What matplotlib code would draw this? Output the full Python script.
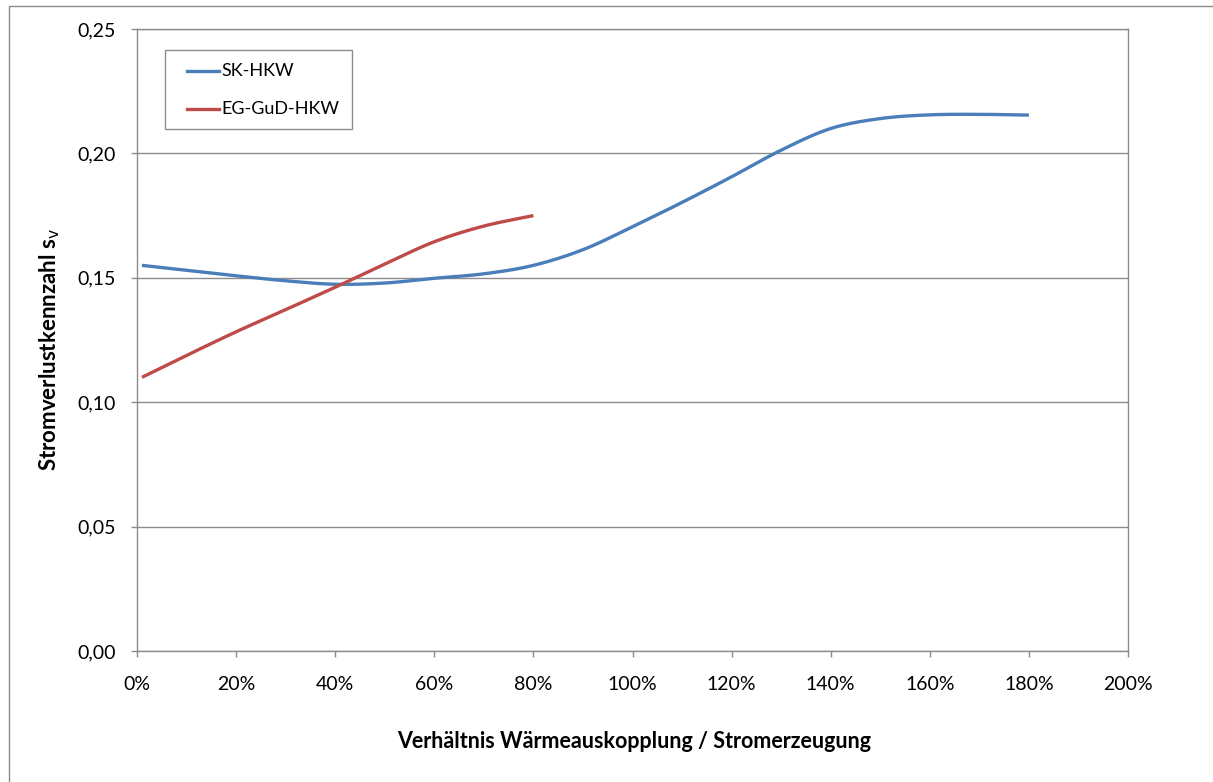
import numpy as np
import matplotlib
matplotlib.use("Agg")
import matplotlib.pyplot as plt
from matplotlib.patches import Rectangle
from matplotlib.lines import Line2D
from matplotlib.ticker import FuncFormatter

plt.rcParams['font.family'] = ['Lato', 'DejaVu Sans']

# ---- data (x in %, y = Stromverlustkennzahl) ----
sk_x = [1, 10, 20, 30, 40, 50, 60, 70, 80, 90, 100, 110, 120, 130, 140, 150, 160, 170, 180]
sk_y = [0.155, 0.153, 0.1508, 0.1488, 0.1474, 0.1479, 0.1498, 0.1516, 0.155, 0.1613,
        0.1705, 0.1803, 0.1906, 0.2013, 0.2100, 0.2140, 0.2155, 0.2157, 0.2154]
gud_x = [1, 10, 20, 30, 40, 50, 60, 70, 80]
gud_y = [0.110, 0.1188, 0.1283, 0.1372, 0.1462, 0.1555, 0.1645, 0.1708, 0.175]
series_names = ["SK-HKW", "EG-GuD-HKW"]
x_ticks = [0, 20, 40, 60, 80, 100, 120, 140, 160, 180, 200]
y_ticks = [0.00, 0.05, 0.10, 0.15, 0.20, 0.25]

BLUE = "#4A7EBB"
RED = "#BE4B48"
GRID = "#8C8C8C"

def smooth(xs, ys, n=20):
    """Catmull-Rom rendering of a smoothed line (like Excel 'smoothed line')."""
    xs = np.asarray(xs, float); ys = np.asarray(ys, float)
    P = np.column_stack([xs, ys])
    P = np.vstack([2 * P[0] - P[1], P, 2 * P[-1] - P[-2]])
    out = []
    t = np.linspace(0, 1, n, endpoint=False)[:, None]
    for i in range(1, len(P) - 2):
        p0, p1, p2, p3 = P[i - 1], P[i], P[i + 1], P[i + 2]
        seg = 0.5 * ((2 * p1) + (-p0 + p2) * t + (2 * p0 - 5 * p1 + 4 * p2 - p3) * t ** 2
                     + (-p0 + 3 * p1 - 3 * p2 + p3) * t ** 3)
        out.append(seg)
    out.append(P[-2][None, :])
    out = np.vstack(out)
    return out[:, 0], out[:, 1]

W, H = 1213, 782
fig = plt.figure(figsize=(W / 100, H / 100), dpi=100)
fig.patch.set_facecolor("white")

# outer chart frame (only left/top visible in image)
fig.add_artist(Rectangle((9 / W, -0.05), 1.2, (H - 6) / H + 0.05, transform=fig.transFigure,
                         fill=False, edgecolor="#8C8C8C", linewidth=1.0))

ax = fig.add_axes([137 / W, (H - 651) / H, (1128 - 137) / W, (651 - 29) / H])
ax.set_xlim(0, 200)
ax.set_ylim(0, 0.25)

sx, sy = smooth(sk_x, sk_y)
gx, gy = smooth(gud_x, gud_y)
ax.plot(sx, sy, color=BLUE, lw=2.4, solid_capstyle="butt", zorder=3)
ax.plot(gx, gy, color=RED, lw=2.4, solid_capstyle="butt", zorder=3)

ax.set_xticks(x_ticks)
ax.set_yticks(y_ticks)
ax.xaxis.set_major_formatter(FuncFormatter(lambda v, p: f"{int(round(v))}%"))
ax.yaxis.set_major_formatter(FuncFormatter(lambda v, p: f"{v:.2f}".replace(".", ",")))
ax.grid(axis="y", color=GRID, lw=1.0)
ax.set_axisbelow(True)
for s in ax.spines.values():
    s.set_color(GRID)
    s.set_linewidth(1.0)
ax.tick_params(axis="both", direction="out", length=4, width=1, color=GRID,
               labelsize=14, labelcolor="black")
ax.tick_params(axis="y", pad=11)
ax.tick_params(axis="x", pad=14)

ax.set_xlabel("Verhältnis Wärmeauskopplung / Stromerzeugung", fontsize=15.5, fontweight="bold",
              va="center")
ax.xaxis.set_label_coords((634 - 137) / 991, -(741 - 651) / 622)
ax.set_ylabel("Stromverlustkennzahl s$_\\mathrm{v}$", fontsize=16, fontweight="bold",
              va="center")
ax.yaxis.set_label_coords((50 - 137) / 991, (651 - 350) / 622)

# legend box
lx0, ly0, lx1, ly1 = 165, 50, 352, 129
fig.add_artist(Rectangle((lx0 / W, (H - ly1) / H), (lx1 - lx0) / W, (ly1 - ly0) / H,
                         transform=fig.transFigure, facecolor="white", edgecolor="#8C8C8C",
                         linewidth=1.0, zorder=5))
for name, col, yy in [(series_names[0], BLUE, 71), (series_names[1], RED, 109)]:
    fig.add_artist(Line2D([187 / W, 219 / W], [(H - yy) / H] * 2, transform=fig.transFigure,
                          color=col, lw=2.4, zorder=6))
    fig.text(221 / W, (H - yy) / H, name, fontsize=13, va="center", ha="left", zorder=6)

fig.savefig("out.png", dpi=100, facecolor="white")
